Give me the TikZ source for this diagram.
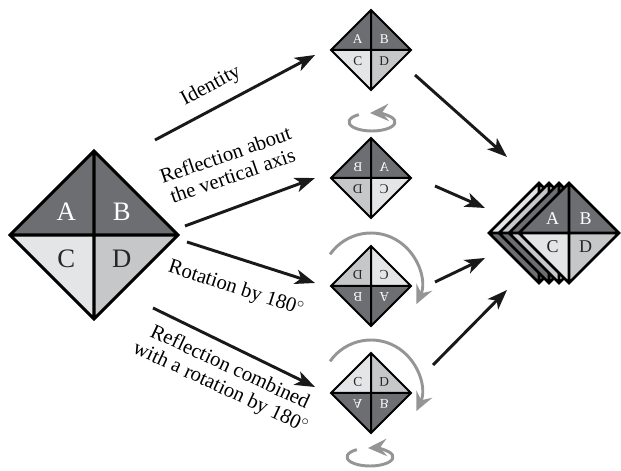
\documentclass[tikz,border=0pt]{standalone}
\usepackage{fontspec}
\setmainfont{Liberation Serif}
\usetikzlibrary{arrows.meta,calc}

\definecolor{darkq}{HTML}{6D6E71}
\definecolor{lightq}{HTML}{E4E5E6}
\definecolor{midq}{HTML}{C6C7C9}
\definecolor{turnq}{HTML}{959595}

% one quarter of a tile, and the outline of a tile (unit diamond)
\newcommand{\piece}[3]{\fill[#3] (0,0) -- (#1,0) -- (0,#2) -- cycle;}
\newcommand{\rim}{\draw (-1,0) -- (0,1) -- (1,0) -- (0,-1) -- cycle
    (-1,0) -- (1,0) (0,1) -- (0,-1);}

\tikzset{
  move/.style={line width=2.2pt, draw=black!90,
    -{Stealth[length=15pt, width=11pt, inset=4pt]}},
  turn/.style={line width=2.2pt, draw=turnq,
    -{Stealth[length=14pt, width=13pt, inset=5pt]}},
  label/.style={font=\fontsize{15.5}{16.5}\selectfont, align=center,
    inner sep=0pt},
  letter/.style={inner sep=0pt},
  on dark/.style={letter, text=white},
  on light/.style={letter, text=black!85},
}

\begin{document}
\begin{tikzpicture}[
    x=0.75pt, y=0.75pt,
    line join=miter
    ]
    \useasboundingbox (0,0) rectangle (621,471);

    %original tile
    \begin{scope}[shift={(94,236)}, scale=84, line width=2.3pt,
        font=\fontsize{20}{20}\selectfont]
        \coordinate (big) at (0,0);
        \piece{-1}{1}{darkq} \piece{1}{1}{darkq}
        \piece{-1}{-1}{lightq} \piece{1}{-1}{midq}
        \node[on dark] (big-a) at (-.33,.28) {A};
        \node[on dark] (big-b) at (.33,.28) {B};
        \node[on light] (big-c) at (-.33,-.28) {C};
        \node[on light] (big-d) at (.33,-.28) {D};
        \rim
    \end{scope}

    %identity
    \begin{scope}[shift={(371,421)}, scale=40, line width=1.5pt,
        font=\fontsize{10}{10}\selectfont]
        \coordinate (id) at (0,0);
        \piece{-1}{1}{darkq} \piece{1}{1}{darkq}
        \piece{-1}{-1}{lightq} \piece{1}{-1}{midq}
        \node[on dark] (id-a) at (-.33,.28) {A};
        \node[on dark] (id-b) at (.33,.28) {B};
        \node[on light] (id-c) at (-.33,-.28) {C};
        \node[on light] (id-d) at (.33,-.28) {D};
        \rim
    \end{scope}

    %reflection about the vertical axis
    \begin{scope}[shift={(371,293)}, scale=40, line width=1.5pt,
        font=\fontsize{10}{10}\selectfont]
        \coordinate (refl) at (0,0);
        \piece{-1}{1}{darkq} \piece{1}{1}{darkq}
        \piece{-1}{-1}{midq} \piece{1}{-1}{lightq}
        \node[on dark, xscale=-1] (refl-b) at (-.33,.28) {B};
        \node[on dark, xscale=-1] (refl-a) at (.33,.28) {A};
        \node[on light, xscale=-1] (refl-d) at (-.33,-.28) {D};
        \node[on light, xscale=-1] (refl-c) at (.33,-.28) {C};
        \rim
    \end{scope}

    %rotation by 180
    \begin{scope}[shift={(371,185)}, scale=40, line width=1.5pt,
        font=\fontsize{10}{10}\selectfont]
        \coordinate (rot) at (0,0);
        \piece{-1}{1}{midq} \piece{1}{1}{lightq}
        \piece{-1}{-1}{darkq} \piece{1}{-1}{darkq}
        \node[on light, rotate=180] (rot-d) at (-.33,.28) {D};
        \node[on light, rotate=180] (rot-c) at (.33,.28) {C};
        \node[on dark, rotate=180] (rot-b) at (-.33,-.28) {B};
        \node[on dark, rotate=180] (rot-a) at (.33,-.28) {A};
        \rim
    \end{scope}

    %reflection combined with rotation
    \begin{scope}[shift={(371,78)}, scale=40, line width=1.5pt,
        font=\fontsize{10}{10}\selectfont]
        \coordinate (comb) at (0,0);
        \piece{-1}{1}{lightq} \piece{1}{1}{midq}
        \piece{-1}{-1}{darkq} \piece{1}{-1}{darkq}
        \node[on light, yscale=-1] (comb-c) at (-.33,.28) {C};
        \node[on light, yscale=-1] (comb-d) at (.33,.28) {D};
        \node[on dark, yscale=-1] (comb-a) at (-.33,-.28) {A};
        \node[on dark, yscale=-1] (comb-b) at (.33,-.28) {B};
        \rim
    \end{scope}

    %stack of tiles
    \begin{scope}[line width=1.9pt]
        \begin{scope}[shift={(539,238)}, scale=50]
            \piece{-1}{1}{lightq} \piece{1}{1}{midq}
            \piece{-1}{-1}{darkq} \piece{1}{-1}{darkq}
            \rim
        \end{scope}
        \begin{scope}[shift={(549,238)}, scale=50]
            \piece{-1}{1}{midq} \piece{1}{1}{lightq}
            \piece{-1}{-1}{darkq} \piece{1}{-1}{darkq}
            \rim
        \end{scope}
        \begin{scope}[shift={(559,238)}, scale=50]
            \piece{-1}{1}{darkq} \piece{1}{1}{darkq}
            \piece{-1}{-1}{midq} \piece{1}{-1}{lightq}
            \rim
        \end{scope}
        \begin{scope}[shift={(569,238)}, scale=50,
            font=\fontsize{13.5}{13.5}\selectfont]
            \coordinate (stack) at (0,0);
            \piece{-1}{1}{darkq} \piece{1}{1}{darkq}
            \piece{-1}{-1}{lightq} \piece{1}{-1}{midq}
            \node[on dark] (stack-a) at (-.33,.28) {A};
            \node[on dark] (stack-b) at (.33,.28) {B};
            \node[on light] (stack-c) at (-.33,-.28) {C};
            \node[on light] (stack-d) at (.33,-.28) {D};
            \rim
        \end{scope}
    \end{scope}

    %arrow ends
    \coordinate (id-in) at (155,331);   \coordinate (id-to) at (315,416);
    \coordinate (refl-in) at (185,245); \coordinate (refl-to) at (315,293);
    \coordinate (rot-in) at (187,229);  \coordinate (rot-to) at (315,188);
    \coordinate (comb-in) at (153,163); \coordinate (comb-to) at (315,84);
    \coordinate (id-out) at (415,396);   \coordinate (id-st) at (507,314);
    \coordinate (refl-out) at (435,285); \coordinate (refl-st) at (485,263);
    \coordinate (rot-out) at (435,189);  \coordinate (rot-st) at (485,213);
    \coordinate (comb-out) at (433,106); \coordinate (comb-st) at (507,181);

    %arrows
    \draw[move] (id-in) -- (id-to);
    \draw[move] (refl-in) -- (refl-to);
    \draw[move] (rot-in) -- (rot-to);
    \draw[move] (comb-in) -- (comb-to);
    \draw[move] (id-out) -- (id-st);
    \draw[move] (refl-out) -- (refl-st);
    \draw[move] (rot-out) -- (rot-st);
    \draw[move] (comb-out) -- (comb-st);

    %labels
    \node[label, rotate=28] (lab-id) at (211,385) {Identity};
    \node[label, rotate=19] (lab-refl) at (229,306)
        {Reflection about\\the vertical axis};
    \node[label, rotate=-18] (lab-rot) at (236,182) {Rotation by 180$^\circ$};
    \node[label, rotate=-25] (lab-comb) at (225,93)
        {Reflection combined\\with a rotation by 180$^\circ$};

    %turning marks
    \draw[turn] (372,349) ++(125:23 and 9)
        arc[start angle=125, end angle=455, x radius=23, y radius=9];
    \draw[turn] (370,14) ++(125:23 and 9)
        arc[start angle=125, end angle=455, x radius=23, y radius=9];
    \draw[turn] (371,188) ++(145:50) arc[start angle=145, end angle=-25, radius=50];
    \draw[turn] (371,81) ++(145:50) arc[start angle=145, end angle=-25, radius=50];

\end{tikzpicture}
\end{document}
